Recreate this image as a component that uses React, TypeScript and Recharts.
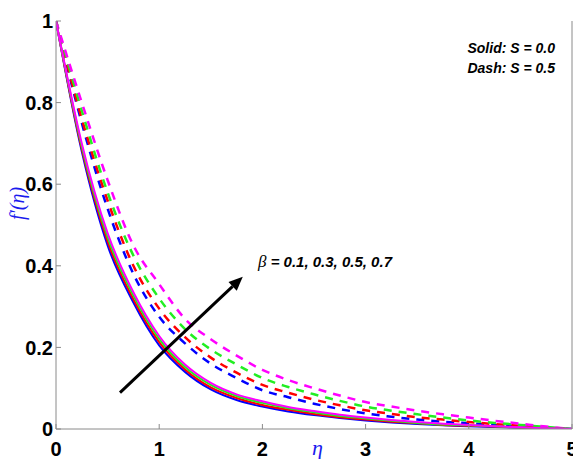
import React from "react";
import { LineChart, Line, XAxis, YAxis, ReferenceLine } from "recharts";

const eta = [0, 0.25, 0.5, 0.75, 1, 1.25, 1.5, 1.75, 2, 2.25, 2.5, 2.75, 3, 3.25, 3.5, 3.75, 4, 4.25, 4.5, 4.75, 5];

// Solid: S = 0.0
const solidB01 = [1, 0.68, 0.45, 0.31, 0.205, 0.14, 0.097, 0.071, 0.055, 0.043, 0.034, 0.027, 0.021, 0.016, 0.012, 0.009, 0.007, 0.005, 0.003, 0.0015, 0];
const solidB03 = [1, 0.686, 0.46, 0.318, 0.213, 0.146, 0.102, 0.076, 0.059, 0.047, 0.037, 0.029, 0.023, 0.018, 0.014, 0.01, 0.008, 0.006, 0.0035, 0.0017, 0];
const solidB05 = [1, 0.693, 0.47, 0.327, 0.221, 0.152, 0.108, 0.081, 0.064, 0.051, 0.041, 0.032, 0.026, 0.02, 0.015, 0.011, 0.009, 0.0065, 0.004, 0.002, 0];
const solidB07 = [1, 0.7, 0.48, 0.335, 0.228, 0.158, 0.113, 0.085, 0.068, 0.054, 0.044, 0.035, 0.028, 0.022, 0.017, 0.013, 0.01, 0.007, 0.004, 0.002, 0];

// Dash: S = 0.5
const dashB01 = [1, 0.75, 0.54, 0.38, 0.275, 0.21, 0.16, 0.125, 0.095, 0.078, 0.062, 0.049, 0.038, 0.03, 0.023, 0.018, 0.014, 0.01, 0.006, 0.003, 0];
const dashB03 = [1, 0.76, 0.56, 0.4, 0.295, 0.225, 0.175, 0.138, 0.108, 0.089, 0.072, 0.058, 0.046, 0.037, 0.029, 0.023, 0.017, 0.012, 0.008, 0.004, 0];
const dashB05 = [1, 0.78, 0.58, 0.425, 0.32, 0.245, 0.195, 0.158, 0.125, 0.103, 0.085, 0.069, 0.055, 0.045, 0.036, 0.028, 0.021, 0.015, 0.01, 0.005, 0];
const dashB07 = [1, 0.8, 0.61, 0.45, 0.355, 0.27, 0.22, 0.18, 0.145, 0.12, 0.1, 0.082, 0.066, 0.055, 0.045, 0.036, 0.028, 0.02, 0.013, 0.006, 0];

const xTicks = [0, 1, 2, 3, 4, 5];
const yTicks = [0, 0.2, 0.4, 0.6, 0.8, 1];

// arrow annotation (data coords)
const arrowStart = { x: 0.62, y: 0.089 };
const arrowEnd = { x: 1.81, y: 0.373 };

const colors = ["#0000ff", "#ff0000", "#22ee22", "#ff00ff"];

const data = eta.map((e, i) => ({
  eta: e,
  s1: solidB01[i], s3: solidB03[i], s5: solidB05[i], s7: solidB07[i],
  d1: dashB01[i], d3: dashB03[i], d5: dashB05[i], d7: dashB07[i],
}));

const axisColor = "#8a8a8a";
const tickFont = { fontFamily: "'Liberation Sans', Arial, sans-serif", fontWeight: 700, fontSize: 20, fill: "#000" };

const Arrow = (props: any) => {
  const { x1, y1, x2, y2 } = props;
  const ang = Math.atan2(y2 - y1, x2 - x1);
  const L = 14, W = 6;
  const bx = x2 - L * Math.cos(ang), by = y2 - L * Math.sin(ang);
  const p1 = `${bx + W * Math.sin(ang)},${by - W * Math.cos(ang)}`;
  const p2 = `${bx - W * Math.sin(ang)},${by + W * Math.cos(ang)}`;
  return (
    <g>
      <line x1={x1} y1={y1} x2={bx} y2={by} stroke="#000" strokeWidth={3} />
      <polygon points={`${x2},${y2} ${p1} ${p2}`} fill="#000" />
    </g>
  );
};

export default function App() {
  const solids = [
    { key: "s1", c: colors[0] }, { key: "s3", c: colors[1] }, { key: "s5", c: colors[2] }, { key: "s7", c: colors[3] },
  ];
  const dashes = [
    { key: "d1", c: colors[0] }, { key: "d3", c: colors[1] }, { key: "d5", c: colors[2] }, { key: "d7", c: colors[3] },
  ];
  return (
    <div style={{ position: "absolute", left: 0, top: 0, width: 573, height: 459, background: "#fff" }}>
      <LineChart width={573} height={459} data={data} margin={{ top: 21, right: 0, bottom: 0, left: 0 }}>
        <XAxis dataKey="eta" type="number" domain={[0, 5]} ticks={xTicks} height={30}
          axisLine={{ stroke: axisColor }} tickLine={{ stroke: axisColor }} tickSize={-5} tickMargin={18}
          tick={tickFont} interval={0} allowDataOverflow />
        <XAxis xAxisId="top" orientation="top" dataKey="eta" type="number" domain={[0, 5]} ticks={xTicks} height={0}
          axisLine={{ stroke: axisColor }} tickLine={{ stroke: axisColor }} tickSize={-5} tickFormatter={() => ""} />
        <YAxis type="number" domain={[0, 1]} ticks={yTicks} width={56}
          axisLine={{ stroke: axisColor }} tickLine={{ stroke: axisColor }} tickSize={-5} tickMargin={8}
          tick={tickFont} tickFormatter={(v: number) => String(v)} interval={0} allowDataOverflow />
        <YAxis yAxisId="right" orientation="right" type="number" domain={[0, 1]} ticks={yTicks} width={1}
          axisLine={{ stroke: axisColor }} tickLine={{ stroke: axisColor }} tickSize={-5} tickFormatter={() => ""} />
        {dashes.map((d) => (
          <Line key={d.key} dataKey={d.key} type="monotone" stroke={d.c} strokeWidth={2.5}
            strokeDasharray="8 7" dot={false} isAnimationActive={false} />
        ))}
        {solids.map((d) => (
          <Line key={d.key} dataKey={d.key} type="monotone" stroke={d.c} strokeWidth={2}
            dot={false} isAnimationActive={false} />
        ))}
        <ReferenceLine segment={[arrowStart, arrowEnd]} shape={Arrow} ifOverflow="visible" />
      </LineChart>
      <div style={{ position: "absolute", left: 0, top: 183, width: 36, height: 40, display: "flex", alignItems: "center", justifyContent: "center" }}>
        <div style={{ transform: "rotate(-90deg)", color: "#1a1aee", fontFamily: "'Liberation Serif', 'Times New Roman', serif", fontStyle: "italic", fontSize: 20, whiteSpace: "nowrap" }}>
          f′(η)
        </div>
      </div>
      <div style={{ position: "absolute", left: 312, top: 436, color: "#1a1aee", fontFamily: "'Liberation Serif', 'Times New Roman', serif", fontStyle: "italic", fontSize: 22, lineHeight: "24px" }}>
        η
      </div>
      <div style={{ position: "absolute", right: 18, top: 38, textAlign: "right", fontFamily: "'Liberation Sans', Arial, sans-serif", fontWeight: 700, fontStyle: "italic", fontSize: 14, lineHeight: "20px", color: "#000" }}>
        <div>Solid: S = 0.0</div>
        <div>Dash: S = 0.5</div>
      </div>
      <div style={{ position: "absolute", left: 258, top: 252, fontFamily: "'Liberation Sans', Arial, sans-serif", fontWeight: 700, fontStyle: "italic", fontSize: 15, lineHeight: "20px", color: "#000", whiteSpace: "nowrap" }}>
        <span style={{ fontFamily: "'Liberation Serif', serif", fontWeight: 400, fontSize: 17 }}>β</span> = 0.1, 0.3, 0.5, 0.7
      </div>
    </div>
  );
}
